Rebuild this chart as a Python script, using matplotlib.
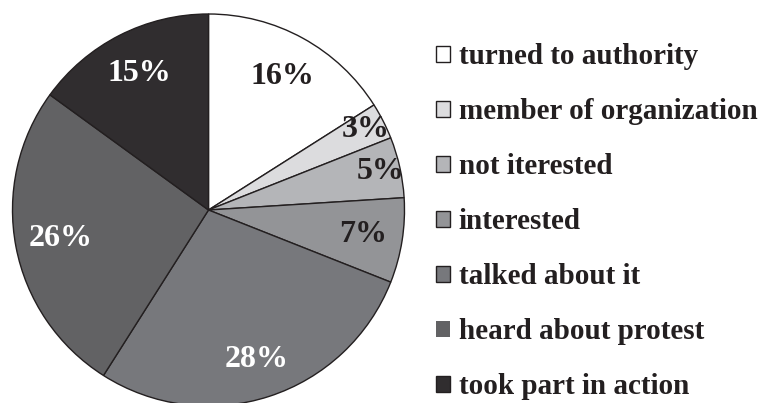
import matplotlib.pyplot as plt
import numpy as np

labels = ["turned to authority", "member of organization", "not iterested",
          "interested", "talked about it", "heard about protest", "took part in action"]
values = [16, 3, 5, 7, 28, 26, 15]
colors = ["#ffffff", "#dcdcde", "#b4b5b8", "#939497", "#77787c", "#626264", "#302d2f"]
text_colors = ["#231f20", "#231f20", "#231f20", "#231f20", "white", "white", "white"]
label_r = [0.78, 0.9, 0.9, 0.8, 0.8, 0.77, 0.78]

plt.rcParams["font.family"] = "Liberation Serif"

fig = plt.figure(figsize=(7.63, 4.03), dpi=100)
ax = fig.add_axes([0, 0, 1, 1])

cx, cy, R = 208.5, 403 - 210, 196
wedges, _ = ax.pie(values, colors=colors, startangle=90, counterclock=False,
                   center=(cx, cy), radius=R, frame=True,
                   wedgeprops=dict(edgecolor="#231f20", linewidth=1.0))
ax.set_xlim(0, 763)
ax.set_ylim(0, 403)
ax.set_aspect("equal")
ax.axis("off")

# percent labels at mid-angle of each wedge
for w, v, tc, r in zip(wedges, values, text_colors, label_r):
    ang = np.deg2rad((w.theta1 + w.theta2) / 2)
    ax.text(cx + r * R * np.cos(ang), cy + r * R * np.sin(ang), f"{v}%",
            ha="center", va="center", fontsize=23, fontweight="bold", color=tc)

edges = ["#231f20"] * 5 + ["none", "#231f20"]
handles = [plt.Rectangle((0, 0), 1, 1, facecolor=c, edgecolor=e, linewidth=1.0)
           for c, e in zip(colors, edges)]
leg = ax.legend(handles, labels, loc="upper left", bbox_to_anchor=(436 / 763, 1 - 43 / 403),
                frameon=False, fontsize=21, handlelength=0.48, handleheight=0.48,
                handletextpad=0.3, labelspacing=0.96, borderpad=0, borderaxespad=0)
for t in leg.get_texts():
    t.set_fontweight("bold")
    t.set_color("#231f20")

fig.savefig("out.png", dpi=100)
